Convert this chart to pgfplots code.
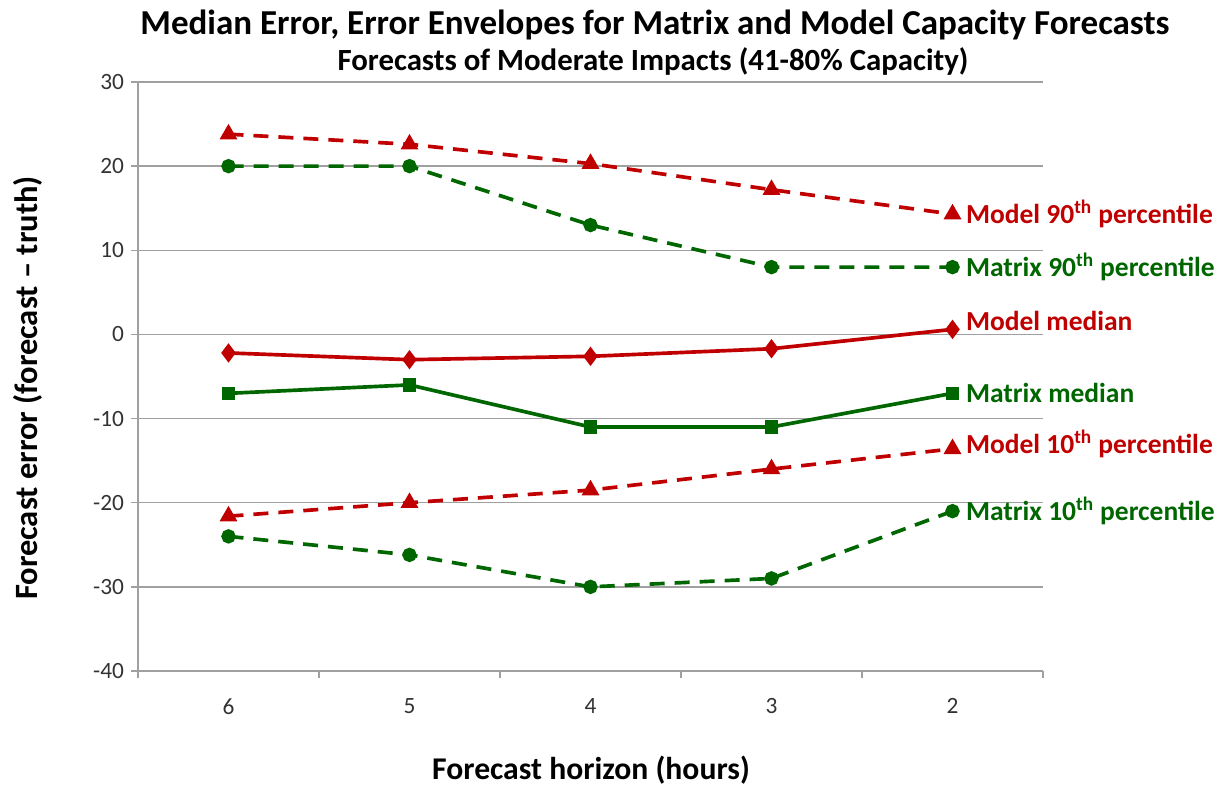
\documentclass[border=0pt]{standalone}
\usepackage{fontspec}
\setmainfont{Carlito}
\usepackage{pgfplots}
\pgfplotsset{compat=1.18}
\definecolor{mred}{RGB}{192,0,0}
\definecolor{mgreen}{RGB}{0,102,0}
\definecolor{gridgrey}{RGB}{160,160,160}
\begin{document}
\begin{tikzpicture}[x=0.6pt,y=0.6pt]
\path (0,0) rectangle (1220,789);
\begin{axis}[
  at={(82.8pt,70.8pt)}, anchor=south west,
  scale only axis, width=543pt, height=353.4pt,
  xmin=-0.5, xmax=4.5, ymin=-40, ymax=30,
  xtick={0,1,2,3,4}, xticklabels={6,5,4,3,2},
  minor xtick={-0.5,0.5,1.5,2.5,3.5,4.5},
  ytick={-40,-30,...,30},
  axis x line*=bottom, axis y line*=left,
  axis line style={gridgrey, line width=0.8pt},
  x axis line style={-}, y axis line style={-},
  tick align=outside,
  major tick length=4pt, minor tick length=4pt,
  major x tick style={draw=none},
  minor x tick style={gridgrey, line width=0.8pt},
  major y tick style={gridgrey, line width=0.8pt},
  ymajorgrids, grid style={gridgrey, line width=0.8pt},
  tick label style={font=\fontsize{14}{16}\selectfont, text=black!80},
  /pgf/number format/assume math mode=true,
  xticklabel style={yshift=-8pt},
  clip=false,
  line width=2.2pt,
]
\addplot[mred, dash pattern=on 9pt off 6pt, mark=triangle*, mark size=4pt, mark options={solid}]
  coordinates {(0,23.8) (1,22.6) (2,20.3) (3,17.2) (4,14.3)};
\addplot[mgreen, dash pattern=on 9pt off 6pt, mark=*, mark size=3.2pt, mark options={solid}]
  coordinates {(0,20) (1,20) (2,13) (3,8) (4,8)};
\addplot[mred, mark=diamond*, mark size=4pt]
  coordinates {(0,-2.2) (1,-3.0) (2,-2.6) (3,-1.7) (4,0.6)};
\addplot[mgreen, mark=square*, mark size=3pt]
  coordinates {(0,-7) (1,-6) (2,-11) (3,-11) (4,-7)};
\addplot[mred, dash pattern=on 9pt off 6pt, mark=triangle*, mark size=4pt, mark options={solid}]
  coordinates {(0,-21.6) (1,-20) (2,-18.5) (3,-16) (4,-13.6)};
\addplot[mgreen, dash pattern=on 9pt off 6pt, mark=*, mark size=3.2pt, mark options={solid}]
  coordinates {(0,-24) (1,-26.2) (2,-30) (3,-29) (4,-21)};
\begin{scope}[every node/.style={anchor=west, font=\fontsize{16.5}{18}\bfseries, inner sep=0pt, xshift=7pt}]
\node[text=mred] at (axis cs:4,14.3) {Model 90\textsuperscript{th} percentile};
\node[text=mgreen] at (axis cs:4,8) {Matrix 90\textsuperscript{th} percentile};
\node[text=mred] at (axis cs:4,1.6) {Model median};
\node[text=mgreen] at (axis cs:4,-7) {Matrix median};
\node[text=mred] at (axis cs:4,-13) {Model 10\textsuperscript{th} percentile};
\node[text=mgreen] at (axis cs:4,-21) {Matrix 10\textsuperscript{th} percentile};
\end{scope}
\end{axis}
\node[font=\fontsize{21}{23}\bfseries] at (655,764) {Median Error, Error Envelopes for Matrix and Model Capacity Forecasts};
\node[font=\fontsize{18.5}{20}\bfseries] at (653,728) {Forecasts of Moderate Impacts (41-80\% Capacity)};
\node[font=\fontsize{19.5}{21}\bfseries, rotate=90] at (28,401) {Forecast error (forecast -- truth)};
\node[font=\fontsize{19}{21}\bfseries] at (591,19) {Forecast horizon (hours)};
\end{tikzpicture}
\end{document}
